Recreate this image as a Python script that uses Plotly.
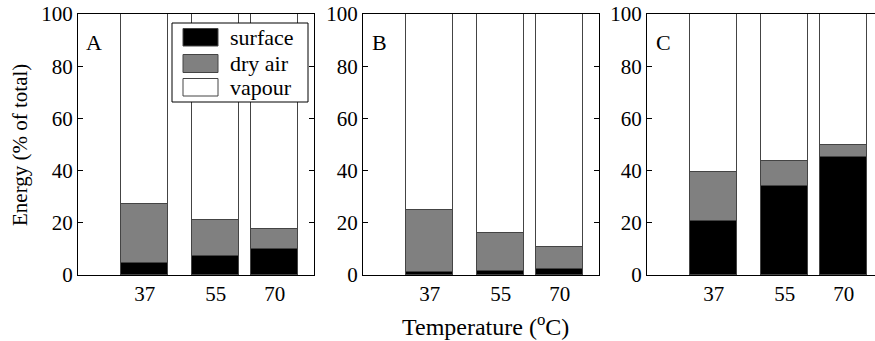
import plotly.graph_objects as go

W, H = 875, 341

temps = [37, 55, 70]
panels = ["A", "B", "C"]

# surface / dry air / vapour energy share (% of total) for each panel
surface = {
    "A": [4.5, 7.2, 9.8],
    "B": [1.0, 1.7, 2.2],
    "C": [20.7, 34.0, 45.3],
}
dry_air = {
    "A": [22.7, 13.9, 7.7],
    "B": [23.8, 14.5, 8.4],
    "C": [18.6, 9.7, 4.6],
}
vapour = {
    "A": [72.8, 78.9, 82.5],
    "B": [75.2, 83.8, 89.4],
    "C": [60.7, 56.3, 50.1],
}

series = [
    ("surface", surface, "#000000"),
    ("dry air", dry_air, "#808080"),
    ("vapour", vapour, "#ffffff"),
]

FONT = "Liberation Serif"
FS = 21

# pixel helpers (margins are zero, so paper == page)
def px(x):
    return x / W

def py(y):
    return 1 - y / H

x_domains = [(78, 314), (363, 599), (647, 875)]
x_ranges = [[20, 80], [20, 80], [20, 20 + (875 - 647) * 60 / 236]]
y_dom = [py(275), py(14)]

fig = go.Figure()

for i, p in enumerate(panels):
    xa = "x" if i == 0 else f"x{i + 1}"
    ya = "y" if i == 0 else f"y{i + 1}"
    for name, data, color in series:
        fig.add_trace(go.Bar(
            x=temps, y=data[p], width=12, name=name,
            marker=dict(color=color, line=dict(color="#444444", width=1)),
            xaxis=xa, yaxis=ya, showlegend=False,
        ))

layout_axes = {}
for i, p in enumerate(panels):
    sfx = "" if i == 0 else str(i + 1)
    d0, d1 = x_domains[i]
    layout_axes[f"xaxis{sfx}"] = dict(
        domain=[px(d0), px(d1)], range=x_ranges[i], anchor=f"y{sfx}",
        tickvals=temps, ticktext=[str(t) for t in temps], ticks="",
        showline=True, linecolor="black", linewidth=1, mirror=True,
        showgrid=False, zeroline=False, automargin=False,
        tickfont=dict(family=FONT, size=FS, color="black"),
    )
    layout_axes[f"yaxis{sfx}"] = dict(
        domain=y_dom, range=[0, 100], anchor=f"x{sfx}",
        tickvals=[0, 20, 40, 60, 80, 100], ticks="inside", ticklen=5,
        tickcolor="black", showline=True, linecolor="black", linewidth=1,
        mirror=("ticks" if i < 2 else False),
        showgrid=False, zeroline=False, automargin=False,
        tickfont=dict(family=FONT, size=FS, color="black"),
    )

fig.update_layout(
    width=W, height=H,
    margin=dict(l=0, r=0, t=0, b=0, pad=0),
    paper_bgcolor="white", plot_bgcolor="white",
    barmode="stack", bargap=0,
    showlegend=False,
    font=dict(family=FONT, size=FS, color="black"),
    **layout_axes,
)

annotations = []
# panel letters
for i, p in enumerate(panels):
    annotations.append(dict(
        x=px(x_domains[i][0] + 16), y=py(42), xref="paper", yref="paper",
        text=p, showarrow=False, xanchor="center", yanchor="middle",
        font=dict(family=FONT, size=22, color="black"),
    ))

# axis titles
annotations.append(dict(
    x=px(485), y=py(325), xref="paper", yref="paper",
    text="Temperature (<sup>o</sup>C)", showarrow=False,
    xanchor="center", yanchor="middle",
    font=dict(family=FONT, size=24, color="black"),
))
annotations.append(dict(
    x=px(20), y=py(145), xref="paper", yref="paper",
    text="Energy (% of total)", showarrow=False, textangle=-90,
    xanchor="center", yanchor="middle",
    font=dict(family=FONT, size=FS, color="black"),
))

# legend box in panel A
shapes = [dict(
    type="rect", xref="paper", yref="paper",
    x0=px(172), x1=px(308), y0=py(102), y1=py(23),
    fillcolor="white", line=dict(color="black", width=1), layer="above",
)]
rows = [(28.5, 46), (54.5, 72.5), (78.5, 96)]
for (name, _, color), (r0, r1) in zip(series, rows):
    shapes.append(dict(
        type="rect", xref="paper", yref="paper",
        x0=px(183), x1=px(218), y0=py(r1), y1=py(r0),
        fillcolor=color, line=dict(color="#444444", width=1), layer="above",
    ))
    annotations.append(dict(
        x=px(228), y=py((r0 + r1) / 2), xref="paper", yref="paper",
        text=name, showarrow=False, xanchor="left", yanchor="middle",
        font=dict(family=FONT, size=22, color="black"),
    ))

fig.update_layout(annotations=annotations, shapes=shapes)

fig.write_html("out.html")
